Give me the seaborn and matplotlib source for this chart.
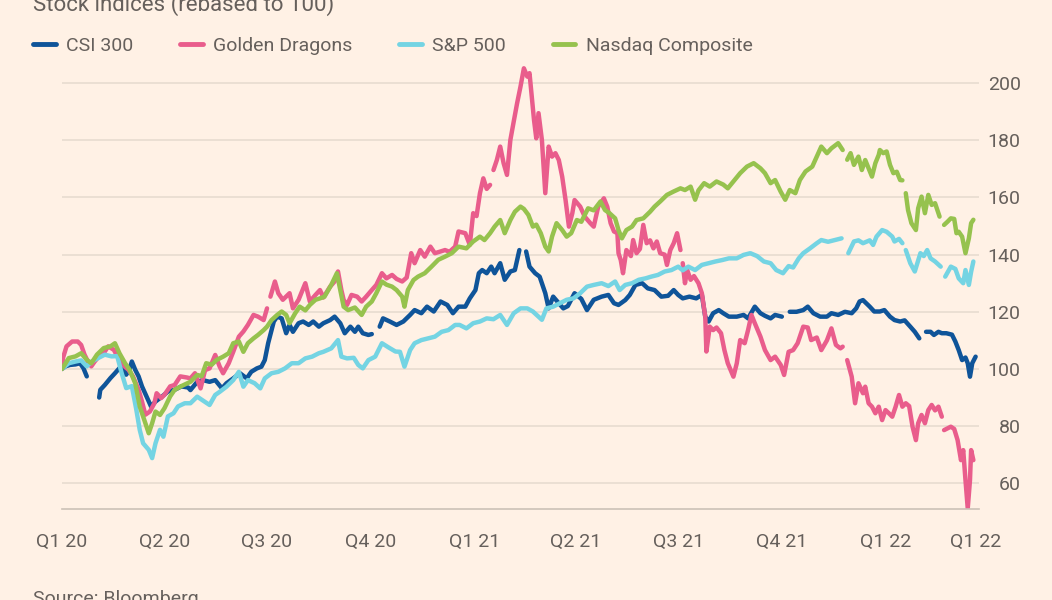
import numpy as np
import pandas as pd
import matplotlib
matplotlib.use("Agg")
import matplotlib.pyplot as plt
import matplotlib.dates as mdates
from matplotlib.lines import Line2D
import seaborn as sns

nan = np.nan
start = pd.Timestamp("2020-01-01")

# series (days since 1 Jan 2020, value rebased to 100)
names = ["CSI 300", "Golden Dragons", "S&P 500", "Nasdaq Composite"]
colors = ["#0F5499", "#E95D8C", "#74D4E3", "#96C24E"]

csi_days = [0, 3, 7, 12, 16, 19, 22, 27, 33, 34,
            38, 43, 47, 51, 54, 57, 60, 62, 65, 68,
            71, 75, 79, 83, 89, 94, 100, 106, 112, 114,
            120, 125, 131, 136, 142, 146, 152, 158, 164, 168,
            173, 177, 180, 183, 188, 191, 195, 199, 202, 205,
            210, 214, 219, 223, 228, 232, 238, 242, 247, 251,
            256, 260, 263, 267, 272, 275, 277, 282, 285, 291,
            297, 303, 309, 313, 319, 324, 330, 336, 342, 347,
            352, 358, 362, 367, 370, 373, 377, 381, 384, 389,
            393, 398, 402, 406, 409, 412, 415, 420, 424, 429,
            432, 436, 441, 445, 449, 455, 461, 466, 472, 479,
            485, 490, 494, 500, 504, 509, 515, 520, 526, 532,
            538, 543, 547, 551, 557, 563, 568, 571, 574, 578,
            583, 587, 592, 599, 605, 609, 615, 620, 624, 629,
            633, 639, 641, 646, 652, 658, 662, 667, 673, 679,
            683, 689, 695, 701, 705, 708, 711, 717, 721, 726,
            730, 735, 739, 744, 748, 753, 757, 761, 763, 767,
            771, 774, 778, 781, 785, 790, 793, 796, 799, 802,
            804, 806, 808, 811]
csi_vals = [100, 100.9, 101.4, 101.6, 102, 100.3, 97.4, nan, 90, 92.7,
            94.4, 96.8, 98.5, 100.3, 100.9, 98, 100, 102.6, 99.7, 97.4,
            93.9, 90.4, 86.9, 88.6, 90.4, 92.1, 92.7, 93.9, 93.5, 92.6,
            95.5, 96.1, 95.5, 96.1, 93.2, 95, 96.7, 98.5, 96.7, 99,
            100.2, 100.8, 103.1, 109, 116.6, 118.3, 117.7, 112.5, 115.4, 113,
            116, 116.6, 115.4, 116.6, 114.8, 116, 117.1, 118.3, 116, 112.5,
            114.8, 113, 114.8, 112.5, 111.9, 112.2, nan, 114.8, 117.7, 116.6,
            115.4, 116.6, 118.9, 120.6, 119.5, 121.8, 120.1, 123.6, 122.4, 119.5,
            121.8, 121.8, 124.7, 127.6, 133.5, 134.6, 133.5, 135.8, 133.5, 137,
            131.2, 134.1, 134.6, 141.6, nan, 141.1, 135.8, 133.5, 132.3, 126.5,
            121.2, 125.3, 123, 121.2, 122, 126.5, 124.5, 120.6, 124.2, 125.3,
            125.9, 123, 122.4, 124.1, 125.9, 129.4, 130, 128.2, 127.6, 125.3,
            125.6, 127.6, 125.9, 124.7, 125.3, 124.7, 125.9, 118.3, 116.6, 119.5,
            120.6, 119.5, 118.3, 118.3, 118.9, 117.7, 121.8, 119.5, 118.6, 117.7,
            118.9, 118.3, nan, 120, 120, 120.6, 121.8, 119.5, 118.3, 118.3,
            119.5, 118.9, 120, 119.5, 121.2, 123.6, 124.1, 121.8, 120.1, 120.1,
            120.6, 118.3, 117.1, 116.6, 117, 114.8, 113, 110.7, nan, 113,
            113, 111.9, 113, 112.5, 112.5, 112, 109.6, 106.6, 103.1, 104,
            102, 97.3, 102, 104.3]

gd_days = [0, 1, 4, 9, 14, 17, 20, 23, 26, 29,
           34, 38, 41, 46, 50, 54, 59, 63, 68, 71,
           74, 78, 82, 84, 88, 91, 96, 100, 105, 111,
           114, 118, 123, 127, 131, 136, 140, 143, 148, 152,
           157, 161, 165, 170, 174, 179, 182, 184, 185, 189,
           192, 196, 202, 205, 210, 216, 220, 225, 229, 232,
           238, 242, 245, 248, 250, 253, 257, 262, 266, 270,
           275, 279, 284, 288, 293, 297, 302, 306, 310, 313,
           318, 322, 327, 331, 336, 340, 344, 349, 352, 358,
           362, 365, 368, 371, 374, 377, 380, 382, 383, 386,
           389, 392, 395, 398, 401, 404, 407, 410, 413, 415,
           417, 419, 421, 423, 426, 429, 432, 435, 438, 441,
           444, 447, 450, 453, 455, 460, 464, 469, 472, 476,
           481, 484, 487, 490, 493, 494, 496, 498, 501, 505,
           507, 510, 513, 516, 519, 522, 525, 528, 531, 535,
           537, 540, 543, 546, 549, 550, 551, 553, 555, 558,
           561, 565, 568, 571, 572, 575, 578, 581, 585, 588,
           591, 596, 599, 602, 606, 609, 612, 615, 620, 624,
           629, 633, 638, 641, 645, 649, 653, 658, 662, 665,
           670, 674, 679, 683, 687, 691, 693, 694, 697, 701,
           704, 707, 711, 713, 716, 719, 722, 725, 728, 731,
           734, 737, 740, 743, 746, 749, 752, 755, 758, 760,
           763, 766, 769, 772, 775, 778, 781, 782, 783, 789,
           792, 795, 798, 800, 802, 804, 806, 807, 809]
gd_vals = [100, 104, 107.9, 109.6, 109.6, 108.4, 105, 102.6, 100.9, 102.6,
           105, 106.1, 107.9, 106.7, 103.8, 101.4, 99.7, 97.4, 92.7, 88.6,
           84, 85.1, 88, 91.5, 89.8, 91, 93.9, 94.4, 97.4, 97,
           96.7, 98.5, 93.2, 99.6, 100.2, 104.9, 100.8, 98.5, 102, 106,
           111.3, 113.1, 115.4, 118.9, 118.3, 117.1, 121.2, nan, 125.3, 130.6,
           126.5, 124.2, 126.5, 121.2, 124.2, 130, 123.6, 125.9, 127.6, 125,
           128.8, 130.6, 134.1, 127.6, 124.2, 122.4, 125.9, 125.3, 123.6, 125.3,
           127.6, 129.4, 133.5, 131.7, 132.9, 131.5, 130.6, 132, 140.5, 137,
           141.6, 139.3, 142.8, 140.5, 141.1, 141.6, 141, 142.8, 148.1, 147.5,
           143.4, 154.5, 153.5, 161.5, 166.7, 163, 164.4, nan, 169.6, 173.1,
           177.8, 172, 167.9, 180.1, 186.6, 193, 198.8, 205.2, 202.3, 203.5,
           195.3, 187.1, 180.7, 189.5, 180.1, 161.5, 177.8, 174.3, 175.5, 173.1,
           167.3, 159.1, 149.8, 154.5, 159.1, 156.8, 153.3, 151, 149.8, 156.8,
           159.7, 156.8, 151, 148.1, 147.5, 140.5, 138.1, 133.5, 141.6, 139.5,
           145.1, 140.5, 142, 150.4, 144, 145, 142.2, 144.6, 140.5, 140,
           136.4, 141.6, 144, 147.5, 141.6, nan, 137, 130, 134.6, 131.2,
           132.5, 130, 126.5, 118.3, 106.1, 114.8, 113.6, 114.5, 112.5, 106.6,
           102, 97.3, 102, 110.1, 109, 113.6, 118.9, 116, 111.3, 106.6,
           103.1, 104.3, 101.4, 97.9, 106, 106.6, 109, 114.8, 114.5, 110.1,
           111, 106.6, 110, 114.2, 108.4, 107.2, 107.8, nan, 103.1, 97.3,
           88, 95, 91.5, 93.8, 88, 86.8, 84.5, 86.8, 82.1, 85.6,
           84.5, 83.3, 86.8, 90.9, 86.8, 88, 87, 79.8, 75.1, 81,
           83.9, 81, 85.6, 87.4, 85.5, 86.8, 83.3, nan, 78.6, 79.8,
           79, 75.1, 68.1, 71.6, 61.1, 51.2, 61.1, 71.6, 68.1]

spx_days = [0, 6, 12, 17, 22, 26, 32, 38, 44, 49,
            53, 57, 62, 66, 69, 72, 77, 80, 83, 87,
            90, 94, 99, 103, 109, 114, 120, 125, 131, 136,
            140, 146, 152, 157, 161, 165, 171, 176, 180, 186,
            192, 198, 204, 210, 216, 222, 228, 232, 239, 245,
            248, 253, 259, 263, 267, 272, 278, 284, 290, 296,
            300, 304, 309, 313, 319, 325, 331, 337, 343, 349,
            353, 359, 365, 371, 377, 383, 389, 395, 401, 407,
            413, 418, 426, 430, 436, 442, 448, 454, 460, 466,
            472, 479, 485, 491, 495, 500, 506, 512, 518, 523,
            529, 535, 541, 547, 551, 556, 562, 568, 574, 580,
            586, 592, 599, 605, 611, 617, 623, 629, 634, 640,
            645, 649, 654, 658, 664, 670, 674, 680, 686, 692,
            694, 698, 703, 707, 711, 717, 720, 723, 728, 732,
            737, 739, 743, 746, 747, 749, 753, 757, 762, 765,
            768, 771, 775, 780, 782, 784, 789, 793, 796, 800,
            802, 805, 807, 809]
spx_vals = [100, 102, 102.6, 103, 100.9, 102.5, 103.8, 105, 104.4, 104.5,
            98.5, 93.3, 94, 85.7, 78.7, 74, 71.7, 68.8, 74, 78.7,
            76.3, 83.4, 84.5, 86.9, 88, 88, 90.3, 89, 87.4, 90.9,
            92, 93.8, 96.1, 99, 93.8, 96.1, 95, 93.2, 96.7, 98.5,
            99, 100.2, 102, 102, 103.7, 104.3, 105.5, 106, 107.2, 110.1,
            104.3, 103.7, 103.9, 101.4, 100.2, 103.1, 104.3, 109, 107.5, 106.1,
            106, 100.8, 106.6, 109, 110.1, 110.7, 111.3, 113, 113.6, 115.4,
            115.4, 114.2, 116, 116.6, 117.7, 117.4, 118.9, 115.4, 119.5, 121.2,
            121.2, 120.1, 117.2, 121.2, 121.8, 123, 124.2, 124.7, 126.5, 128.8,
            129.4, 130, 129, 130.6, 127.6, 129.4, 130, 131.2, 131.7, 132.3,
            132.9, 134.1, 134.6, 135.8, 134.5, 135.8, 134.6, 136.4, 137, 137.6,
            138.1, 138.7, 138.7, 139.9, 140.5, 139.5, 137.6, 137, 134.6, 133.5,
            136, 135.5, 138.7, 140.5, 142.2, 144, 145.1, 144.5, 145.1, 145.7,
            nan, 140.5, 144.6, 145, 144, 145, 143.4, 146.3, 148.6, 148,
            146.3, 144.6, 145.5, 144, nan, 141.6, 137, 134.1, 140.5, 139.5,
            141.6, 138.7, 137.6, 135.8, nan, 132.3, 135.8, 135, 131.7, 130,
            134.6, 129.4, 134, 137.6]

ndq_days = [0, 6, 12, 17, 22, 26, 31, 37, 43, 47,
            51, 56, 60, 65, 69, 74, 77, 80, 83, 87,
            91, 96, 100, 106, 114, 120, 124, 128, 133, 137,
            143, 148, 152, 157, 161, 165, 170, 174, 179, 182,
            186, 191, 195, 199, 202, 207, 211, 216, 220, 225,
            229, 233, 239, 244, 247, 250, 254, 260, 266, 270,
            275, 279, 284, 288, 293, 297, 302, 304, 307, 312,
            316, 322, 328, 334, 340, 346, 352, 359, 365, 371,
            375, 380, 384, 389, 393, 398, 402, 407, 410, 414,
            418, 421, 425, 429, 432, 435, 439, 444, 448, 452,
            457, 461, 467, 472, 478, 482, 486, 491, 494, 497,
            501, 506, 510, 516, 522, 526, 531, 537, 543, 549,
            553, 558, 562, 565, 570, 575, 581, 587, 591, 597,
            602, 608, 614, 620, 624, 629, 633, 638, 642, 646,
            651, 655, 660, 666, 670, 674, 679, 683, 689, 693,
            694, 697, 700, 703, 707, 710, 713, 716, 719, 722,
            725, 726, 729, 732, 735, 738, 741, 744, 746, 747,
            749, 751, 754, 758, 760, 763, 766, 769, 772, 775,
            779, 782, 783, 786, 789, 792, 794, 796, 799, 802,
            805, 807, 809]
ndq_vals = [100, 103.8, 104.4, 105.5, 103.2, 102, 105, 107.3, 107.9, 109,
            105.5, 102, 99.7, 95, 86.9, 81, 77.5, 81, 85.1, 83.9,
            86.3, 90.4, 92.7, 94, 95.5, 97.9, 97.5, 102, 101.5, 103.1,
            104.3, 105.5, 109, 109.6, 106, 109, 110.7, 111.9, 113.6, 114.8,
            117.1, 118.9, 120.1, 118.9, 116, 119.5, 121.8, 120.5, 122.4, 124.2,
            124.7, 125.3, 129.4, 133.5, 127.6, 121.8, 120.6, 121.5, 118.9, 121.8,
            123.6, 126.5, 130.6, 129.5, 128.8, 127.6, 125.3, 121.8, 127.6, 131.1,
            132.3, 133.5, 135.8, 138.2, 139.3, 140.5, 142.8, 142.2, 144.6, 146.3,
            145.1, 147.5, 149.8, 152.1, 147.5, 152.1, 155, 156.8, 156, 153.9,
            149.8, 150.5, 147.5, 142.8, 141.1, 146.3, 151, 148.6, 146.3, 147.5,
            152.1, 151.5, 156.2, 155.5, 158.6, 155.6, 154.5, 152.7, 148.6, 145.7,
            148.6, 149.8, 152.1, 152.7, 155, 156.8, 158.6, 160.9, 162.1, 163.2,
            162.6, 163.8, 159.2, 162.5, 165, 163.8, 165.6, 164.5, 163.2, 166.1,
            168.5, 170.8, 172, 170.2, 168.5, 165, 166.1, 162, 159.2, 162.6,
            161.5, 166.1, 169.1, 170.8, 174.3, 177.8, 175.5, 177.2, 179, 176.6,
            nan, 173.2, 175.5, 171.4, 174.3, 169.6, 173.1, 170.2, 167.3, 172,
            174.9, 176.6, 175.5, 176.1, 171.4, 168.5, 169, 166.1, 166, nan,
            161.5, 155.6, 151, 148.6, 156.2, 160.3, 154.5, 160.9, 157.4, 158,
            153.3, nan, 150.4, 151.5, 152.7, 152.5, 147.5, 148, 146.3, 140.5,
            145.7, 151, 152.2]

quarter_ticks = ["2020-01-01", "2020-04-01", "2020-07-01", "2020-10-01",
                 "2021-01-01", "2021-04-01", "2021-07-01", "2021-10-01",
                 "2022-01-01", "2022-03-22"]
quarter_labels = ["Q1 20", "Q2 20", "Q3 20", "Q4 20", "Q1 21",
                  "Q2 21", "Q3 21", "Q4 21", "Q1 22", "Q1 22"]
y_ticks = [60, 80, 100, 120, 140, 160, 180, 200]


def to_frame(name, days, vals):
    df = pd.DataFrame({"day": days, "value": vals})
    # break the line where there is no trading
    df["seg"] = df["value"].isna().cumsum()
    df = df.dropna()
    df["date"] = start + pd.to_timedelta(df["day"], unit="D")
    df["index"] = name
    df["unit"] = name + "_" + df["seg"].astype(str)
    return df


df = pd.concat([
    to_frame("CSI 300", csi_days, csi_vals),
    to_frame("Golden Dragons", gd_days, gd_vals),
    to_frame("S&P 500", spx_days, spx_vals),
    to_frame("Nasdaq Composite", ndq_days, ndq_vals),
], ignore_index=True)

bg = "#FFF1E5"
txt = "#66605C"
sns.set_style("white")
plt.rcParams["font.family"] = ["Roboto", "DejaVu Sans"]

fig = plt.figure(figsize=(10.52, 6), dpi=100, facecolor=bg)
ax = fig.add_axes([62 / 1052, 1 - 509 / 600, (979 - 62) / 1052, (509 - 66) / 600])
ax.set_facecolor(bg)

palette = dict(zip(names, colors))
sns.lineplot(data=df, x="date", y="value", hue="index", units="unit",
             estimator=None, palette=palette, hue_order=names,
             linewidth=3.2, legend=False, ax=ax)
for line in ax.get_lines():
    line.set_solid_joinstyle("round")
    line.set_solid_capstyle("round")

ax.set_xlim(start, pd.Timestamp("2022-03-25"))
ax.set_ylim(51, 206)
ax.set_xlabel("")
ax.set_ylabel("")

# x axis
ax.set_xticks(pd.to_datetime(quarter_ticks))
ax.set_xticklabels(quarter_labels)
ax.xaxis.set_minor_locator(mdates.MonthLocator())
ax.tick_params(axis="x", which="major", length=11.5, width=1, color="#CCC1B7",
               pad=6, labelsize=14, labelcolor=txt, direction="out")
ax.tick_params(axis="x", which="minor", length=6.5, width=1, color="#CCC1B7",
               direction="out")

# y axis on the right
ax.yaxis.tick_right()
ax.set_yticks(y_ticks)
ax.tick_params(axis="y", length=0, pad=30, labelsize=14, labelcolor=txt)
for lbl in ax.get_yticklabels():
    lbl.set_horizontalalignment("right")

ax.set_axisbelow(True)
ax.yaxis.grid(True, color="#E8DCD0", linewidth=1.2)
ax.xaxis.grid(False)
for s in ["left", "right", "top"]:
    ax.spines[s].set_visible(False)
ax.spines["bottom"].set_color("#CCC1B7")
ax.spines["bottom"].set_linewidth(1.2)

handles = [Line2D([0], [0], color=c, lw=3.5) for c in colors]
fig.legend(handles, names, loc="center left", bbox_to_anchor=(33 / 1052, 1 - 46 / 600),
           ncol=4, frameon=False, fontsize=14, handlelength=1.18,
           handletextpad=0.52, columnspacing=2.4, labelcolor=txt,
           borderaxespad=0, borderpad=0)

fig.text(33 / 1052, 1 - 11 / 600, "Stock indices (rebased to 100)",
         fontsize=16, color=txt, va="baseline", ha="left")
fig.text(33 / 1052, 1 - 604 / 600, "Source: Bloomberg",
         fontsize=14, color=txt, va="baseline", ha="left")

fig.savefig("out.png", dpi=100, facecolor=bg)
